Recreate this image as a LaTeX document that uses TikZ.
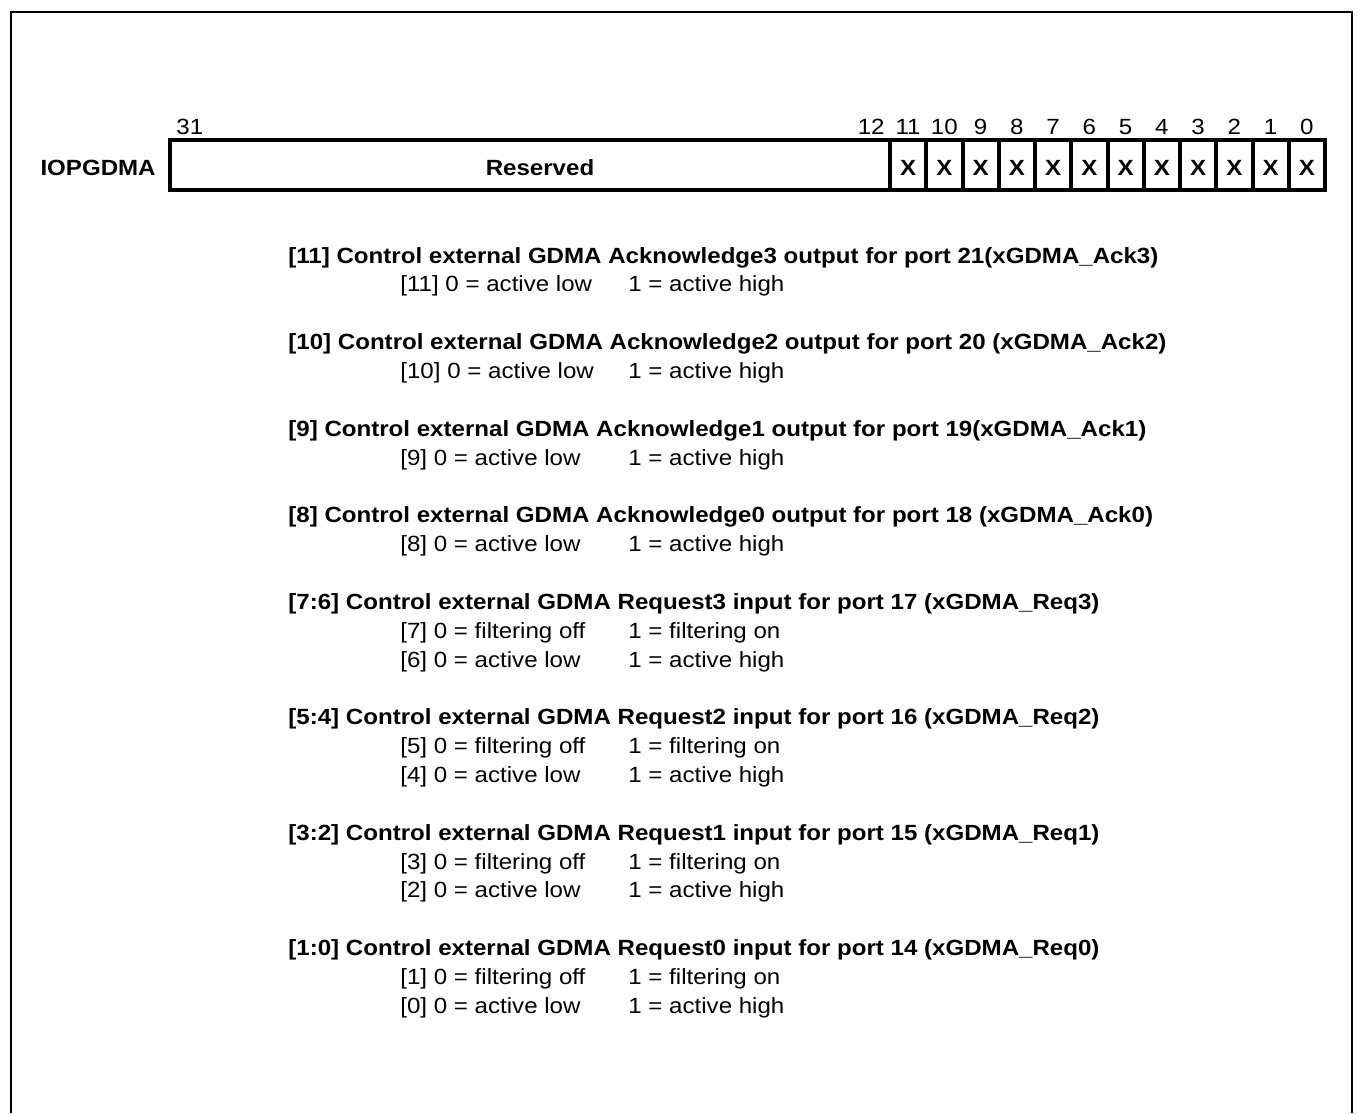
\documentclass[tikz,border=0pt]{standalone}
\usepackage{fontspec}
\setmainfont[FakeStretch=1.095]{Liberation Sans}
\usepackage{tikz}
\usetikzlibrary{
	positioning
}

\tikzset{
	regfield/.style={draw, line width=2pt, minimum height=25pt, inner sep=0pt,
		font=\fontsize{11pt}{13pt}\selectfont\bfseries},
	bitnum/.style={anchor=base, inner sep=0pt, font=\fontsize{11pt}{13pt}\selectfont},
	regname/.style={inner sep=0pt, font=\fontsize{11pt}{13pt}\selectfont\bfseries},
	headline/.style={anchor=base west, inner sep=0pt, font=\fontsize{11pt}{13pt}\selectfont\bfseries},
	subline/.style={anchor=base west, inner sep=0pt, font=\fontsize{11pt}{13pt}\selectfont}
}

\begin{document}
\begin{tikzpicture}[x=0.5pt, y=-0.5pt]
			\useasboundingbox (0,0) rectangle (1358,1113);
			% frame, open at the bottom
			\draw[line width=1pt] (11,1113) -- (11,12) -- (1352,12) -- (1352,1113);
			% register
			\coordinate (numrow) at (0,134);
			\node[regfield, minimum width=360pt] (rsv) at (530,165) {};
			\node[regfield, draw=none, yshift=-1.5pt] (rsvtxt) at (540,165) {Reserved};
			\node[regname, left=6pt of rsv, yshift=-1.5pt] (iopgdma) {IOPGDMA};
			\foreach \b in {0,...,11} {
				\node[regfield, minimum width=18.125pt, text height=10pt, text depth=0pt] (b\b) at ({1325-36.25*(\b+0.5)},165) {X};
				\node[bitnum] (n\b) at (b\b |- numrow) {\b};
			}
			\node[bitnum, anchor=base east] (n12) at (885,134) {12};
			\node[bitnum, anchor=base west] (n31) at (176,134) {31};
			% bit descriptions
			\node[headline] (h11) at (288,263) {[11] Control external GDMA Acknowledge3 output for port 21(xGDMA\_Ack3)};
			\node[subline] (s11) at (400,291.9) {\makebox[114pt][l]{[11] 0 = active low}1 = active high};
			\node[headline] (h10) at (288,349.6) {[10] Control external GDMA Acknowledge2 output for port 20 (xGDMA\_Ack2)};
			\node[subline] (s10) at (400,378.4) {\makebox[114pt][l]{[10] 0 = active low}1 = active high};
			\node[headline] (h9) at (288,436.2) {[9] Control external GDMA Acknowledge1 output for port 19(xGDMA\_Ack1)};
			\node[subline] (s9) at (400,465) {\makebox[114pt][l]{[9] 0 = active low}1 = active high};
			\node[headline] (h8) at (288,522.7) {[8] Control external GDMA Acknowledge0 output for port 18 (xGDMA\_Ack0)};
			\node[subline] (s8) at (400,551.6) {\makebox[114pt][l]{[8] 0 = active low}1 = active high};
			\node[headline] (h76) at (288,609.3) {[7:6] Control external GDMA Request3 input for port 17 (xGDMA\_Req3)};
			\node[subline] (s7) at (400,638.2) {\makebox[114pt][l]{[7] 0 = filtering off}1 = filtering on};
			\node[subline] (s6) at (400,667) {\makebox[114pt][l]{[6] 0 = active low}1 = active high};
			\node[headline] (h54) at (288,724.8) {[5:4] Control external GDMA Request2 input for port 16 (xGDMA\_Req2)};
			\node[subline] (s5) at (400,753.6) {\makebox[114pt][l]{[5] 0 = filtering off}1 = filtering on};
			\node[subline] (s4) at (400,782.5) {\makebox[114pt][l]{[4] 0 = active low}1 = active high};
			\node[headline] (h32) at (288,840.2) {[3:2] Control external GDMA Request1 input for port 15 (xGDMA\_Req1)};
			\node[subline] (s3) at (400,869.1) {\makebox[114pt][l]{[3] 0 = filtering off}1 = filtering on};
			\node[subline] (s2) at (400,897.9) {\makebox[114pt][l]{[2] 0 = active low}1 = active high};
			\node[headline] (h10b) at (288,955.6) {[1:0] Control external GDMA Request0 input for port 14 (xGDMA\_Req0)};
			\node[subline] (s1) at (400,984.5) {\makebox[114pt][l]{[1] 0 = filtering off}1 = filtering on};
			\node[subline] (s0) at (400,1013.4) {\makebox[114pt][l]{[0] 0 = active low}1 = active high};
		\end{tikzpicture}
\end{document}
